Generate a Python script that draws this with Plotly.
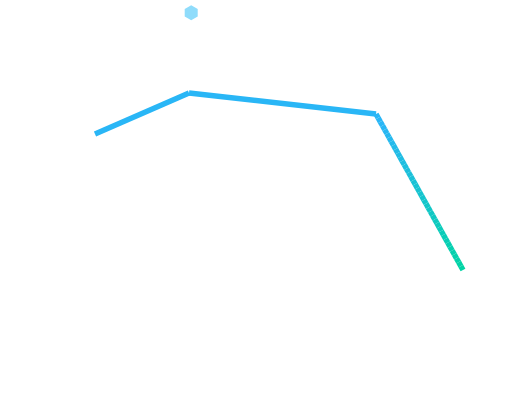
import plotly.graph_objects as go

# Data
x_vals = [95, 189, 376, 463]
y_vals = [267, 308, 287, 131]

BLUE = (41, 182, 246)
GREEN = (0, 212, 164)
V_HI = 276   # above this value the line is fully blue
V_LO = 131   # at this value the line is fully green


def colour_for(v):
    t = (V_HI - v) / (V_HI - V_LO)
    t = max(0.0, min(1.0, t))
    c = [round(BLUE[i] + (GREEN[i] - BLUE[i]) * t) for i in range(3)]
    return f"rgb({c[0]},{c[1]},{c[2]})"


fig = go.Figure()
N = 40
for i in range(len(x_vals) - 1):
    x0, x1 = x_vals[i], x_vals[i + 1]
    y0, y1 = y_vals[i], y_vals[i + 1]
    if min(y0, y1) >= V_HI - 12:
        fig.add_trace(go.Scatter(x=[x0, x1], y=[y0, y1], mode="lines",
                                 line=dict(color=colour_for(V_HI), width=5.5),
                                 showlegend=False, hoverinfo="skip"))
        continue
    for k in range(N):
        a, b = k / N, (k + 1) / N
        xa, xb = x0 + (x1 - x0) * a, x0 + (x1 - x0) * b
        ya, yb = y0 + (y1 - y0) * a, y0 + (y1 - y0) * b
        fig.add_trace(go.Scatter(x=[xa, xb], y=[ya, yb], mode="lines",
                                 line=dict(color=colour_for((ya + yb) / 2), width=5.5),
                                 showlegend=False, hoverinfo="skip"))

# legend-like hexagon icon at the top
fig.add_trace(go.Scatter(x=[0.367], y=[0.968], mode="markers", xaxis="x2", yaxis="y2",
                         cliponaxis=False,
                         marker=dict(symbol="hexagon", size=15, color="#8fdcfb",
                                     line=dict(width=0)),
                         showlegend=False, hoverinfo="skip"))

fig.update_layout(
    width=521, height=401,
    margin=dict(l=0, r=0, t=0, b=0),
    paper_bgcolor="white", plot_bgcolor="white",
    xaxis=dict(range=[0, 521], visible=False),
    yaxis=dict(range=[0, 401], visible=False),
    xaxis2=dict(range=[0, 1], visible=False, overlaying="x"),
    yaxis2=dict(range=[0, 1], visible=False, overlaying="y"),
)

fig.write_html("out.html", config={"displayModeBar": False},
               post_script="document.body.style.margin='0';")
